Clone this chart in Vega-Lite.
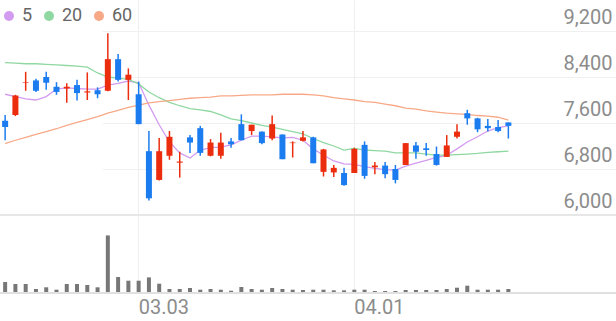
{
  "$schema": "https://vega.github.io/schema/vega-lite/v6.json",
  "width": 616,
  "height": 293,
  "autosize": {"type": "none"},
  "padding": {"left": 0, "top": 0, "right": 0, "bottom": 28},
  "background": "white",
  "config": {"view": {"stroke": null}, "font": "Roboto"},
  "data": {"values": [
    {"d":"02.09","o":7640,"h":7740,"l":7300,"c":7530,"v":110000,"ma5":8100,"ma20":8650,"ma60":7240},
    {"d":"02.10","o":7740,"h":8090,"l":7720,"c":8080,"v":90000,"ma5":8060,"ma20":8640,"ma60":7300},
    {"d":"02.15","o":8300,"h":8490,"l":8160,"c":8310,"v":90000,"ma5":8020,"ma20":8630,"ma60":7350},
    {"d":"02.16","o":8340,"h":8370,"l":8140,"c":8160,"v":40000,"ma5":8000,"ma20":8630,"ma60":7400},
    {"d":"02.17","o":8400,"h":8490,"l":8180,"c":8300,"v":57000,"ma5":8060,"ma20":8620,"ma60":7450},
    {"d":"02.18","o":8230,"h":8310,"l":8090,"c":8140,"v":33000,"ma5":8190,"ma20":8610,"ma60":7500},
    {"d":"02.19","o":8200,"h":8290,"l":7950,"c":8230,"v":90000,"ma5":8210,"ma20":8600,"ma60":7560},
    {"d":"02.22","o":8260,"h":8350,"l":7990,"c":8120,"v":90000,"ma5":8200,"ma20":8590,"ma60":7610},
    {"d":"02.23","o":8130,"h":8480,"l":8000,"c":8150,"v":80000,"ma5":8190,"ma20":8570,"ma60":7660},
    {"d":"02.24","o":8170,"h":8220,"l":8030,"c":8100,"v":57000,"ma5":8190,"ma20":8470,"ma60":7710},
    {"d":"02.25","o":8160,"h":9160,"l":8150,"c":8710,"v":576000,"ma5":8260,"ma20":8400,"ma60":7770},
    {"d":"02.26","o":8710,"h":8800,"l":8320,"c":8350,"v":160000,"ma5":8290,"ma20":8380,"ma60":7820},
    {"d":"03.02","o":8350,"h":8550,"l":8000,"c":8440,"v":123000,"ma5":8330,"ma20":8360,"ma60":7870},
    {"d":"03.03","o":8100,"h":8320,"l":7580,"c":7580,"v":123000,"ma5":8300,"ma20":8280,"ma60":7910},
    {"d":"03.04","o":7110,"h":7460,"l":6250,"c":6290,"v":156000,"ma5":7910,"ma20":8140,"ma60":7950},
    {"d":"03.05","o":6610,"h":7340,"l":6600,"c":7110,"v":93000,"ma5":7570,"ma20":8040,"ma60":7970},
    {"d":"03.08","o":7030,"h":7460,"l":6960,"c":7360,"v":40000,"ma5":7270,"ma20":7960,"ma60":7990},
    {"d":"03.09","o":6910,"h":7100,"l":6650,"c":6930,"v":40000,"ma5":7080,"ma20":7900,"ma60":8010},
    {"d":"03.10","o":7350,"h":7390,"l":7080,"c":7260,"v":50000,"ma5":6990,"ma20":7850,"ma60":8030},
    {"d":"03.11","o":7510,"h":7550,"l":7030,"c":7080,"v":33000,"ma5":7130,"ma20":7830,"ma60":8040},
    {"d":"03.12","o":7030,"h":7320,"l":7020,"c":7260,"v":40000,"ma5":7170,"ma20":7800,"ma60":8050},
    {"d":"03.15","o":7030,"h":7430,"l":6980,"c":7260,"v":33000,"ma5":7180,"ma20":7740,"ma60":8070},
    {"d":"03.16","o":7280,"h":7340,"l":7170,"c":7230,"v":23000,"ma5":7220,"ma20":7670,"ma60":8070},
    {"d":"03.17","o":7580,"h":7750,"l":7300,"c":7300,"v":60000,"ma5":7300,"ma20":7640,"ma60":8080},
    {"d":"03.18","o":7460,"h":7570,"l":7390,"c":7570,"v":40000,"ma5":7370,"ma20":7600,"ma60":8090},
    {"d":"03.19","o":7450,"h":7450,"l":7230,"c":7250,"v":33000,"ma5":7370,"ma20":7560,"ma60":8090},
    {"d":"03.22","o":7330,"h":7730,"l":7300,"c":7580,"v":50000,"ma5":7360,"ma20":7530,"ma60":8090},
    {"d":"03.23","o":7400,"h":7400,"l":6970,"c":6970,"v":40000,"ma5":7340,"ma20":7490,"ma60":8100},
    {"d":"03.24","o":7250,"h":7280,"l":7000,"c":7260,"v":33000,"ma5":7350,"ma20":7450,"ma60":8100},
    {"d":"03.25","o":7290,"h":7460,"l":7280,"c":7350,"v":30000,"ma5":7300,"ma20":7410,"ma60":8100},
    {"d":"03.26","o":7350,"h":7360,"l":6900,"c":6900,"v":33000,"ma5":7150,"ma20":7330,"ma60":8090},
    {"d":"03.29","o":6750,"h":7150,"l":6670,"c":7140,"v":33000,"ma5":7040,"ma20":7260,"ma60":8070},
    {"d":"03.30","o":6740,"h":6870,"l":6660,"c":6820,"v":27000,"ma5":6940,"ma20":7200,"ma60":8040},
    {"d":"03.31","o":6730,"h":6820,"l":6510,"c":6520,"v":27000,"ma5":6890,"ma20":7130,"ma60":8020},
    {"d":"04.01","o":6730,"h":7170,"l":6730,"c":7150,"v":33000,"ma5":6880,"ma20":7160,"ma60":8000},
    {"d":"04.02","o":7220,"h":7280,"l":6630,"c":6680,"v":33000,"ma5":6840,"ma20":7130,"ma60":7970},
    {"d":"04.05","o":6830,"h":6920,"l":6710,"c":6860,"v":20000,"ma5":6810,"ma20":7120,"ma60":7960},
    {"d":"04.06","o":6860,"h":6920,"l":6640,"c":6710,"v":20000,"ma5":6790,"ma20":7110,"ma60":7930},
    {"d":"04.07","o":6800,"h":6870,"l":6550,"c":6610,"v":20000,"ma5":6780,"ma20":7080,"ma60":7900},
    {"d":"04.08","o":6870,"h":7250,"l":6870,"c":7250,"v":30000,"ma5":6850,"ma20":7080,"ma60":7860},
    {"d":"04.09","o":7210,"h":7270,"l":6980,"c":7100,"v":30000,"ma5":6900,"ma20":7080,"ma60":7840},
    {"d":"04.12","o":7160,"h":7250,"l":7030,"c":7130,"v":30000,"ma5":6950,"ma20":7060,"ma60":7810},
    {"d":"04.13","o":7060,"h":7190,"l":6860,"c":6870,"v":30000,"ma5":7000,"ma20":7040,"ma60":7790},
    {"d":"04.14","o":7010,"h":7390,"l":7010,"c":7210,"v":40000,"ma5":7040,"ma20":7040,"ma60":7770},
    {"d":"04.15","o":7360,"h":7580,"l":7330,"c":7450,"v":53000,"ma5":7150,"ma20":7050,"ma60":7760},
    {"d":"04.16","o":7770,"h":7830,"l":7570,"c":7680,"v":73000,"ma5":7270,"ma20":7060,"ma60":7750},
    {"d":"04.19","o":7680,"h":7690,"l":7440,"c":7490,"v":33000,"ma5":7360,"ma20":7070,"ma60":7730},
    {"d":"04.20","o":7550,"h":7670,"l":7450,"c":7510,"v":33000,"ma5":7460,"ma20":7090,"ma60":7720},
    {"d":"04.21","o":7530,"h":7650,"l":7440,"c":7460,"v":33000,"ma5":7520,"ma20":7100,"ma60":7700},
    {"d":"04.22","o":7610,"h":7610,"l":7330,"c":7550,"v":40000,"ma5":7550,"ma20":7110,"ma60":7650}
  ]},
  "layer": [
    {
      "layer": [
        {
          "mark": {"type": "rule", "color": "#e6e6e6", "strokeWidth": 1},
          "encoding": {"y": {"datum": 6000, "type": "quantitative"}}
        },
        {
          "transform": [{"fold": ["ma5", "ma20", "ma60"], "as": ["k", "val"]}],
          "mark": {"type": "line", "strokeWidth": 1.3},
          "encoding": {
            "x": {
              "field": "d", "type": "ordinal",
              "scale": {"range": [0, 513.5], "paddingInner": 0, "paddingOuter": 0},
              "axis": {"orient": "bottom", "values": ["03.03", "04.01"], "grid": true, "gridColor": "#eeeeee", "domain": false, "ticks": false, "labelAlign": "left", "labelBaseline": "top", "labelPadding": 4, "labelFontSize": 20, "labelColor": "#8c8c8c", "labelAngle": 0, "title": null}
            },
            "y": {
              "field": "val", "type": "quantitative",
              "scale": {"domain": [4643.5, 9739], "nice": false, "zero": false},
              "axis": {"orient": "right", "values": [6000, 6800, 7600, 8400, 9200], "format": ",.0f", "grid": true, "gridColor": "#f0f0f0", "domain": false, "ticks": false, "labelAlign": "right", "labelBaseline": "middle", "labelPadding": -4, "labelOffset": -13, "labelFontSize": 20, "labelColor": "#8c8c8c", "labelOverlap": false, "title": null}
            },
            "color": {
              "field": "k", "type": "nominal",
              "scale": {"domain": ["ma5", "ma20", "ma60"], "range": ["#d39bf0", "#8fd8a1", "#f7a987"]},
              "legend": {"orient": "none", "legendX": 0, "legendY": 7, "direction": "horizontal", "title": null, "symbolType": "circle", "symbolSize": 100, "symbolStrokeWidth": 0, "labelFontSize": 18, "labelColor": "#666666", "labelOffset": 4, "columnPadding": 7, "padding": 0,
                "labelExpr": "datum.value == 'ma5' ? '5' : datum.value == 'ma20' ? '20' : '60'",
                "encode": {"symbols": {"update": {"fill": {"scale": "color", "field": "value"}, "opacity": {"value": 1}}}}}
            }
          }
        },
        {
          "mark": {"type": "rule", "strokeWidth": 1.5},
          "encoding": {
            "x": {"field": "d", "type": "ordinal"},
            "y": {"field": "l", "type": "quantitative"},
            "y2": {"field": "h"},
            "color": {"condition": {"test": "datum.c >= datum.o", "value": "#eb2d0e"}, "value": "#1b7cf0"}
          }
        },
        {
          "mark": {"type": "bar", "size": 6},
          "encoding": {
            "x": {"field": "d", "type": "ordinal"},
            "y": {"field": "o", "type": "quantitative"},
            "y2": {"field": "c"},
            "color": {"condition": {"test": "datum.c >= datum.o", "value": "#eb2d0e"}, "value": "#1b7cf0"}
          }
        }
      ]
    },
    {
      "layer": [
        {
          "mark": {"type": "bar", "size": 4, "color": "#777777"},
          "encoding": {
            "x": {"field": "d", "type": "ordinal"},
            "y": {"field": "v", "type": "quantitative", "scale": {"domain": [0, 2930000], "nice": false}, "axis": null}
          }
        },
        {
          "mark": {"type": "rule", "color": "#e0e0e0", "strokeWidth": 1},
          "encoding": {"y": {"datum": 0, "type": "quantitative"}}
        }
      ]
    }
  ],
  "resolve": {"scale": {"y": "independent"}}
}
